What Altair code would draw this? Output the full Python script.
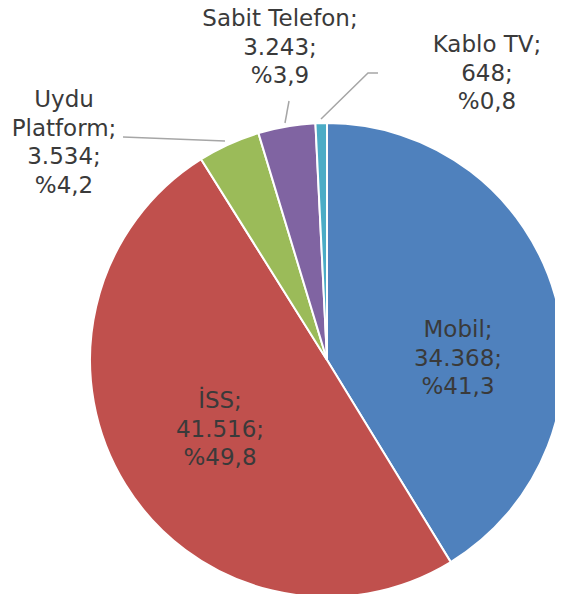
import altair as alt
import pandas as pd

# ---- data ----
categories = ["Mobil", "İSS", "Uydu Platform", "Sabit Telefon", "Kablo TV"]
values = [34368, 41516, 3534, 3243, 648]
percents = [41.3, 49.8, 4.2, 3.9, 0.8]

# ---- styles / layout ----
colors = ["#4F81BD", "#C0504D", "#9BBB59", "#8064A2", "#4BACC6"]
label_names = ["Mobil", "İSS", "Uydu\nPlatform", "Sabit Telefon", "Kablo TV"]
label_x = [450, 212, 56, 272, 479]
label_y = [329, 400, 99, 18, 44]
cx, cy, R = 319, 352, 237
FONT = "DejaVu Sans"

def fmt_val(v):
    return f"{v:,}".replace(",", ".")

def fmt_pct(p):
    return "%" + f"{p:.1f}".replace(".", ",")

pie_df = pd.DataFrame({
    "cat": categories,
    "value": values,
    "idx": list(range(len(categories))),
})

lab_df = pd.DataFrame({
    "cat": categories,
    "text": [f"{n};\n{fmt_val(v)};\n{fmt_pct(p)}" for n, v, p in zip(label_names, values, percents)],
    "lx": label_x,
    "ly": label_y,
})

# leader lines (layout, pixels)
lead_df = pd.DataFrame({
    "cat": ["Uydu Platform", "Uydu Platform",
            "Sabit Telefon", "Sabit Telefon",
            "Kablo TV", "Kablo TV", "Kablo TV"],
    "seq": [0, 1, 0, 1, 0, 1, 2],
    "px": [115, 217, 281, 277, 370, 360, 313],
    "py": [129, 133, 93, 115, 65, 65, 111],
})

pie = alt.Chart(pie_df).mark_arc(
    radius=R, stroke="white", strokeWidth=2
).encode(
    theta=alt.Theta("value:Q", stack=True),
    color=alt.Color("cat:N", scale=alt.Scale(domain=categories, range=colors), legend=None),
    order=alt.Order("idx:Q"),
    x=alt.value(cx),
    y=alt.value(cy),
)

labels = alt.Chart(lab_df).mark_text(
    font=FONT, fontSize=23, lineBreak="\n", lineHeight=28.5,
    align="center", baseline="alphabetic", color="#3A3A3A"
).encode(
    x=alt.X("lx:Q", scale=None, axis=None),
    y=alt.Y("ly:Q", scale=None, axis=None),
    text="text:N",
)

leaders = alt.Chart(lead_df).mark_line(
    color="#A6A6A6", strokeWidth=1.5
).encode(
    x=alt.X("px:Q", scale=None, axis=None),
    y=alt.Y("py:Q", scale=None, axis=None),
    detail="cat:N",
    order="seq:Q",
)

chart = alt.layer(pie, leaders, labels).properties(
    width=547, height=586, padding=0,
    autosize=alt.AutoSizeParams(type="none"),
).configure_view(stroke=None)

chart.save("out.html", embed_options={"renderer": "svg", "actions": False})
